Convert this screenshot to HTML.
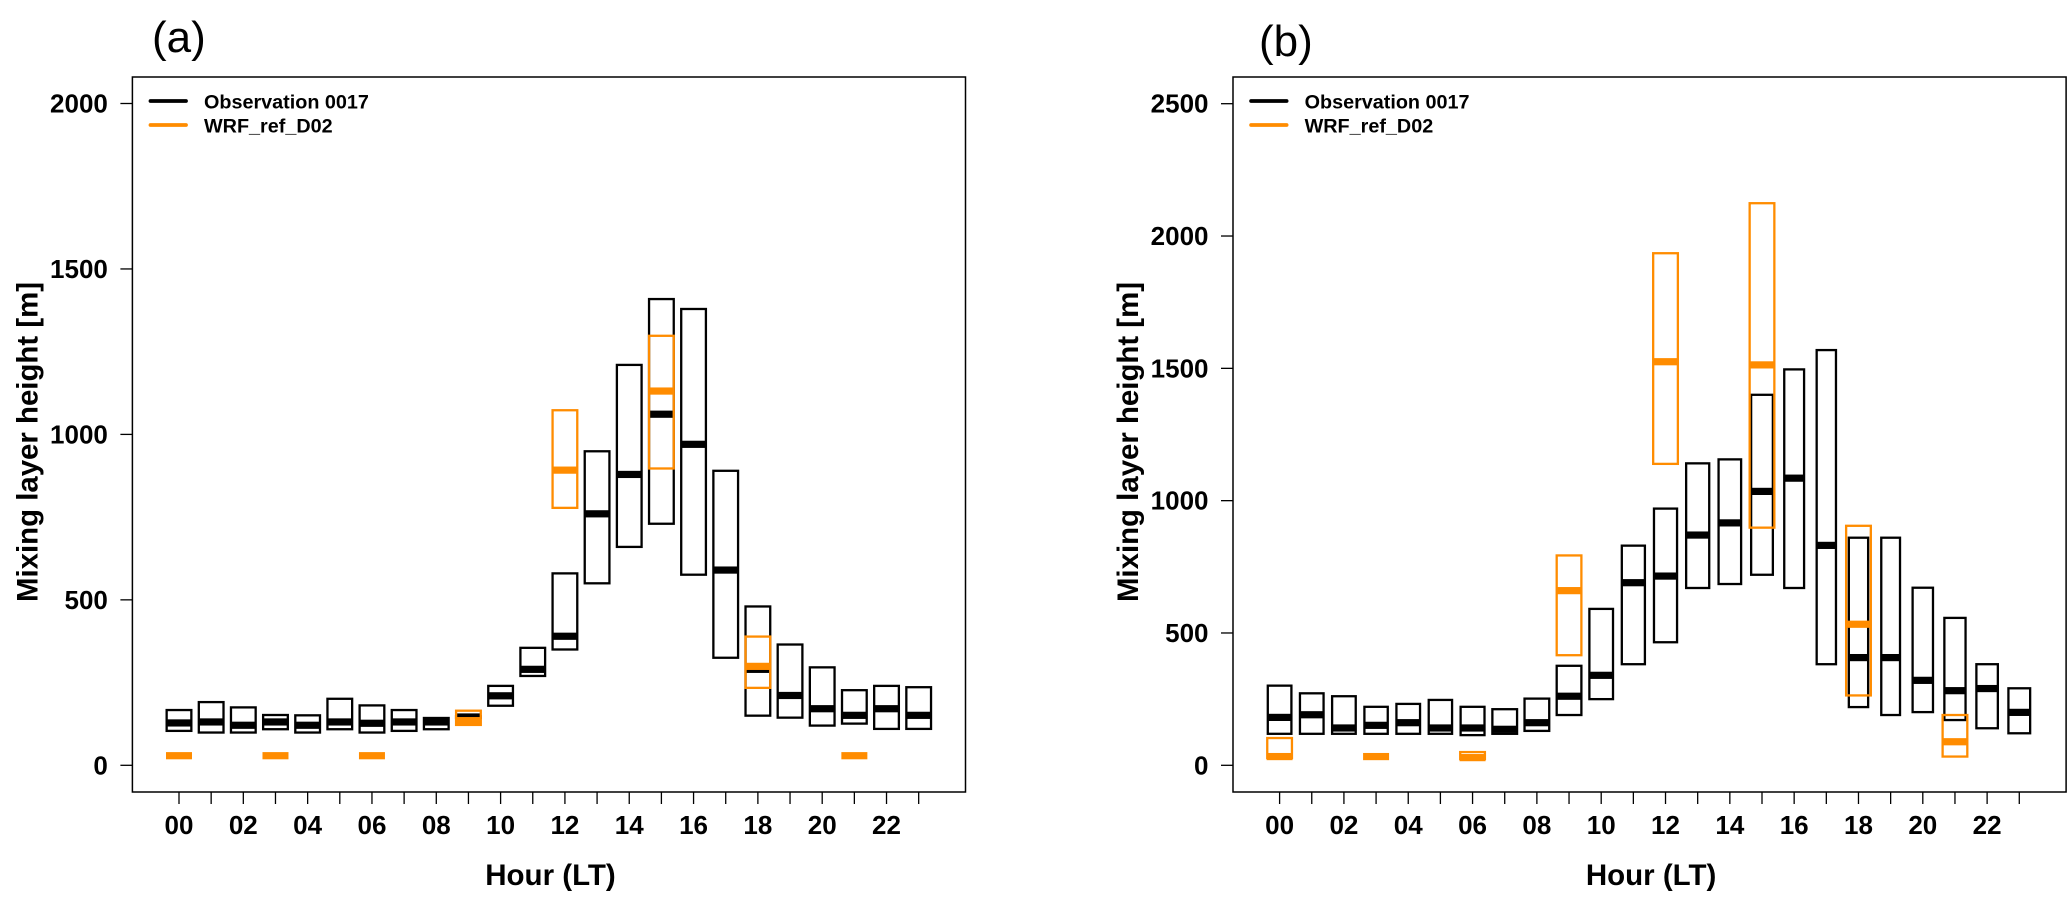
<!DOCTYPE html>
<html lang="en">
<head>
<meta charset="utf-8">
<title>Mixing layer height by hour</title>
<style>
html,body{margin:0;padding:0;background:#fff;}
svg{display:block;font-family:"Liberation Sans",Arial,sans-serif;}
</style>
</head>
<body>
<svg id="chart" xmlns="http://www.w3.org/2000/svg" width="2067" height="903" viewBox="0 0 2067 903"></svg>
<script>
// ---------- data ----------
const hours = [0,1,2,3,4,5,6,7,8,9,10,11,12,13,14,15,16,17,18,19,20,21,22,23];
const xTickLabels = ["00","02","04","06","08","10","12","14","16","18","20","22"];
const wrfHours = [0,3,6,9,12,15,18,21];

// Panel (a)
const aYTicks = [0,500,1000,1500,2000];
const aObsTop = [167,191,175,152,151,201,181,167,143,148,240,355,580,949,1210,1409,1379,890,480,365,296,227,240,236];
const aObsMed = [128,131,121,131,121,131,127,131,131,146,210,290,390,760,879,1061,970,590,290,211,171,151,171,151];
const aObsBot = [104,99,99,109,99,109,99,104,109,143,180,270,350,550,660,730,576,325,150,144,120,126,110,110];
const aObsRelWidth = [1,1,1,1,1,1,1,1,1,1,1,1,1,1,1,1,1,1,1,1,1,1,1,1];
const aWrfTop = [29,29,29,165,1073,1298,389,29];
const aWrfMed = [29,29,29,135,892,1131,299,29];
const aWrfBot = [29,29,29,122,778,897,234,29];

// Panel (b)
const bYTicks = [0,500,1000,1500,2000,2500];
const bObsTop = [301,272,261,221,232,247,221,212,252,376,591,830,970,1141,1156,1400,1496,1569,860,860,671,557,382,291];
const bObsMed = [181,191,141,151,161,141,141,136,161,261,340,690,715,870,916,1035,1085,831,407,407,321,282,290,200];
const bObsBot = [119,119,119,119,119,119,114,119,130,190,250,382,465,670,685,720,670,382,220,190,201,171,140,121];
const bObsRelWidth = [0.96,0.96,0.96,0.95,0.96,0.95,0.97,1,1,1,0.96,0.94,0.94,0.94,0.92,0.89,0.82,0.8,0.8,0.78,0.84,0.87,0.88,0.89];
const bWrfTop = [103,33,50,793,1935,2124,905,190];
const bWrfMed = [33,33,29,660,1525,1513,533,89];
const bWrfBot = [28,33,24,416,1139,898,264,33];

const legendLabels = ["Observation 0017","WRF_ref_D02"];
const obsColor = "#000000";
const wrfColor = "#ff8c00";

// ---------- helpers ----------
const svg = document.getElementById('chart');
const NS = 'http://www.w3.org/2000/svg';
function make(parent, tag, attrs, text){
  const el = document.createElementNS(NS, tag);
  for (const k in attrs) el.setAttribute(k, attrs[k]);
  if (text !== undefined) el.textContent = text;
  parent.appendChild(el);
  return el;
}

function drawBox(group, xFn, yFn, hour, top, med, bot, rel, color, name){
  const g = make(group, 'g', {});
  
  
  const outer = 27 * rel;
  const cx = xFn(hour);
  const yTop = yFn(top), yBot = yFn(bot), yMed = yFn(med);
  const rect = make(g, 'rect', {x: cx - outer/2 + 1.15, y: yTop, width: outer - 2.3, height: Math.max(0, yBot - yTop),
    fill: 'none', stroke: color, 'stroke-width': 2.3});
  
  
  const band = make(g, 'rect', {x: cx - outer/2 + 0.5, y: yMed - 3.6, width: outer - 1, height: 7.2, fill: color});
  
  
}

function drawPanel(cfg){
  const left = cfg.offset + 132.4, right = cfg.offset + 965.5, top = 77, bottom = 792;
  const xFn = h => cfg.offset + 179 + 32.16 * h;
  const yFn = v => 765.3 - v * cfg.scale;

  const panel = make(svg, 'g', {});
  
  

  const title = make(panel, 'text', {x: cfg.titleX, y: cfg.titleY, 'font-size': 44, fill: '#000'}, '(' + cfg.id + ')');
  
  

  const yAxis = make(panel, 'g', {});
  
  
  cfg.yTicks.forEach(v => {
    const tick = make(yAxis, 'line', {x1: left - 12, x2: left, y1: yFn(v), y2: yFn(v), stroke: '#000', 'stroke-width': 1.3});
    
    
    const lab = make(yAxis, 'text', {x: left - 24.5, y: yFn(v) + 9, 'text-anchor': 'end', 'font-size': 26, 'font-weight': 700, fill: '#000'}, String(v));
    
    
  });
  const yx = cfg.offset + 37.5, yy = 442;
  const yTitle = make(yAxis, 'text', {x: yx, y: yy, 'text-anchor': 'middle', 'font-size': 29.4, 'font-weight': 700, fill: '#000',
    transform: 'rotate(-90 ' + yx + ' ' + yy + ')'}, 'Mixing layer height [m]');
  
  

  const xAxis = make(panel, 'g', {});
  
  
  hours.forEach(h => {
    const tick = make(xAxis, 'line', {x1: xFn(h), x2: xFn(h), y1: bottom, y2: bottom + 12, stroke: '#000', 'stroke-width': 1.3});
    
    
  });
  xTickLabels.forEach(l => {
    const lab = make(xAxis, 'text', {x: xFn(parseInt(l, 10)), y: 834, 'text-anchor': 'middle', 'font-size': 26, 'font-weight': 700, fill: '#000'}, l);
    
    
  });
  const xTitle = make(xAxis, 'text', {x: cfg.offset + 550.5, y: 885, 'text-anchor': 'middle', 'font-size': 29.5, 'font-weight': 700, fill: '#000'}, 'Hour (LT)');
  
  

  const obs = make(panel, 'g', {});
  
  
  hours.forEach((h, i) => drawBox(obs, xFn, yFn, h, cfg.obsTop[i], cfg.obsMed[i], cfg.obsBot[i], cfg.obsRel[i], obsColor, 'observation'));

  const wrf = make(panel, 'g', {});
  
  
  wrfHours.forEach((h, i) => drawBox(wrf, xFn, yFn, h, cfg.wrfTop[i], cfg.wrfMed[i], cfg.wrfBot[i], 1, wrfColor, 'wrf'));

  const frame = make(panel, 'rect', {x: left, y: top, width: right - left, height: bottom - top, fill: 'none', stroke: '#000', 'stroke-width': 1.5});
  
  

  const legend = make(panel, 'g', {});
  
  
  legendLabels.forEach((label, i) => {
    const color = i === 0 ? obsColor : wrfColor;
    const ly = 101 + 24 * i;
    const entry = make(legend, 'g', {});
    
    
    const sw = make(entry, 'line', {x1: cfg.offset + 150.5, x2: cfg.offset + 186, y1: ly, y2: ly, stroke: color, 'stroke-width': 3.8, 'stroke-linecap': 'round'});
    
    
    const t = make(entry, 'text', {x: cfg.offset + 204, y: ly + 7.5, 'font-size': 19.8, 'font-weight': 700, fill: '#000'}, label);
    
    
  });
}

drawPanel({id:'a', offset:0, scale:0.3309, titleX:152, titleY:52, yTicks:aYTicks,
  obsTop:aObsTop, obsMed:aObsMed, obsBot:aObsBot, obsRel:aObsRelWidth,
  wrfTop:aWrfTop, wrfMed:aWrfMed, wrfBot:aWrfBot});
drawPanel({id:'b', offset:1100.6, scale:0.26464, titleX:1259, titleY:56, yTicks:bYTicks,
  obsTop:bObsTop, obsMed:bObsMed, obsBot:bObsBot, obsRel:bObsRelWidth,
  wrfTop:bWrfTop, wrfMed:bWrfMed, wrfBot:bWrfBot});
</script>
</body>
</html>
